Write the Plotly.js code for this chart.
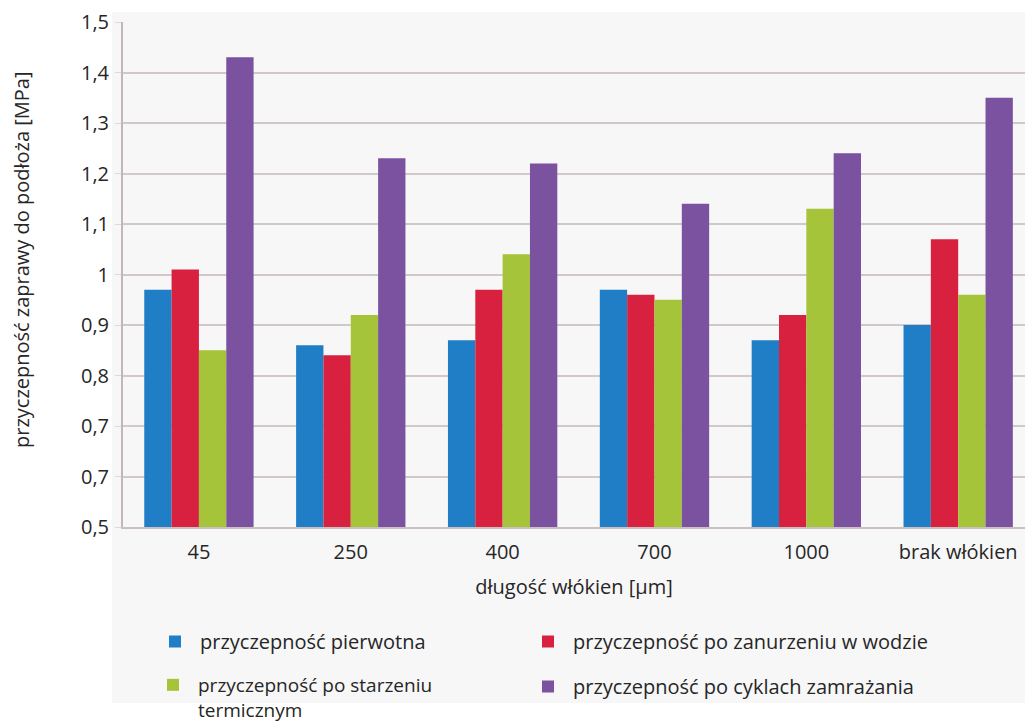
<!DOCTYPE html>
<html>
<head>
<meta charset="utf-8">
<script src="https://cdn.plot.ly/plotly-3.0.1.min.js"></script>
<style>
  html, body { margin: 0; padding: 0; background: #ffffff; }
  #chart { width: 1025px; height: 723px; }
</style>
</head>
<body>
<div id="chart"></div>
<script>
// Fibre length categories
const categories = ['45', '250', '400', '700', '1000', 'brak włókien'];

// Adhesion of mortar to substrate [MPa]
const pierwotna   = [0.97, 0.86, 0.87, 0.97, 0.87, 0.90];
const zanurzenie  = [1.01, 0.84, 0.97, 0.96, 0.92, 1.07];
const starzenie   = [0.85, 0.92, 1.04, 0.95, 1.13, 0.96];
const zamrazanie  = [1.43, 1.23, 1.22, 1.14, 1.24, 1.35];

// Y tick positions and their printed labels
const yTickVals = [0.5, 0.6, 0.7, 0.8, 0.9, 1.0, 1.1, 1.2, 1.3, 1.4, 1.5];
const yTickText = ['0,5', '0,7', '0,7', '0,8', '0,9', '1', '1,1', '1,2', '1,3', '1,4', '1,5'];

const FONT = 'Open Sans, DejaVu Sans, sans-serif';
const TXT = '#262626';

const W = 1025, H = 723;
const M = { l: 123, r: 0, t: 22, b: 196, autoexpand: false };
const PW = W - M.l - M.r, PH = H - M.t - M.b;
// pixel -> paper helpers for decoration placement
const px = v => (v - M.l) / PW;
const py = v => (H - M.b - v) / PH;

const series = [
  { name: 'przyczepność pierwotna', y: pierwotna, color: '#1f7ec5', legend: 'legend' },
  { name: 'przyczepność po zanurzeniu w wodzie', y: zanurzenie, color: '#d8213f', legend: 'legend2' },
  { name: 'przyczepność po starzeniu<br>termicznym', y: starzenie, color: '#a5c43a', legend: 'legend3' },
  { name: 'przyczepność po cyklach zamrażania', y: zamrazanie, color: '#7b529f', legend: 'legend4' }
];

const traces = series.map(s => ({
  type: 'bar',
  x: categories,
  y: s.y,
  base: 0,
  name: s.name,
  legend: s.legend,
  marker: { color: s.color, line: { width: 0 } },
  hoverinfo: 'x+y+name'
}));

// one legend box per series so each entry sits in its own column/row slot
const legendBox = (left, top, size) => ({
  x: px(left),
  y: py(top),
  orientation: 'v',
  xanchor: 'left',
  yanchor: 'top',
  bgcolor: 'rgba(0,0,0,0)',
  itemwidth: 40,
  valign: 'top',
  font: { family: FONT, size: size || 20, color: TXT },
  itemclick: false,
  itemdoubleclick: false
});

const layout = {
  width: W,
  height: H,
  margin: M,
  paper_bgcolor: '#ffffff',
  plot_bgcolor: 'rgba(0,0,0,0)',
  font: { family: FONT, color: TXT },
  barmode: 'group',
  bargap: 0.28,
  bargroupgap: 0,
  showlegend: true,
  xaxis: {
    type: 'category',
    range: [-0.5, 5.44],
    showgrid: false,
    zeroline: false,
    showline: true,
    linecolor: '#cbbfbf',
    linewidth: 2,
    ticks: '',
    tickfont: { family: FONT, size: 20, color: TXT },
    ticklabelstandoff: 6,
    title: {
      text: 'długość włókien [µm]',
      font: { family: FONT, size: 20, color: TXT },
      standoff: 16
    }
  },
  yaxis: {
    range: [0.5, 1.5],
    tickvals: yTickVals,
    ticktext: yTickText,
    showgrid: true,
    gridcolor: '#d3c8c8',
    gridwidth: 2,
    zeroline: false,
    showline: true,
    linecolor: '#c4b6b6',
    linewidth: 2,
    ticks: 'outside',
    ticklen: 6,
    tickcolor: '#e0d8d8',
    tickfont: { family: FONT, size: 20, color: TXT },
    ticklabelstandoff: 2
  },
  legend: legendBox(150, 622),
  legend2: legendBox(523, 622),
  legend3: legendBox(148, 666, 19),
  legend4: legendBox(523, 667),
  annotations: [
    {
      text: 'przyczepność zaprawy do podłoża [MPa]',
      xref: 'paper', yref: 'paper',
      x: px(21), y: py(260),
      xanchor: 'center', yanchor: 'middle',
      textangle: -90,
      showarrow: false,
      font: { family: FONT, size: 20, color: TXT }
    }
  ],
  shapes: [
    {
      type: 'rect',
      xref: 'paper', yref: 'paper',
      x0: px(112), x1: 1,
      y0: py(703), y1: py(12),
      fillcolor: '#f7f7f7',
      line: { width: 0 },
      layer: 'below'
    }
  ]
};

Plotly.newPlot('chart', traces, layout, { displayModeBar: false, staticPlot: true });
</script>
</body>
</html>
